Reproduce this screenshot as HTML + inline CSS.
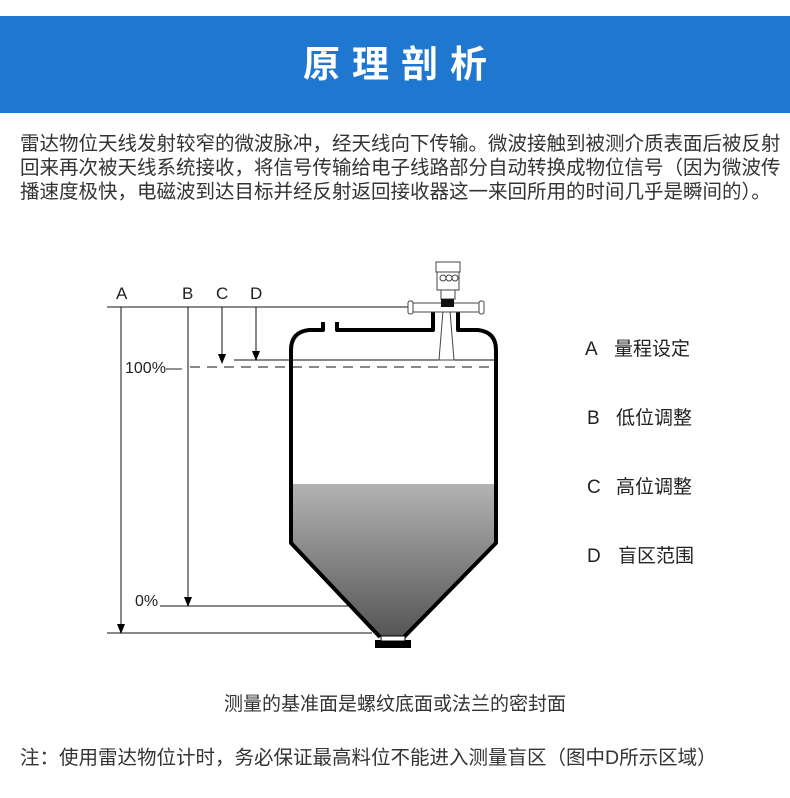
<!DOCTYPE html>
<html><head><meta charset="utf-8"><style>
body{margin:0;width:790px;height:798px;background:#fff;overflow:hidden;position:relative;font-family:"Liberation Sans","Noto Sans CJK SC",sans-serif;color:#333}
.band{position:absolute;left:0;top:16px;width:790px;height:97px;background:#1f77cf}
.title{position:absolute;left:0;top:16px;width:790px;height:97px;line-height:97px;text-align:center;color:#fff;font-size:37px;font-weight:bold;letter-spacing:12px;text-indent:12px}
.p{position:absolute;left:20px;top:132px;width:760px;font-size:19.5px;line-height:24px;white-space:nowrap;color:#333}
.t{position:absolute;white-space:nowrap}
</style></head><body>
<div class="band"></div><div class="title">原理剖析</div>
<div class="p">雷达物位天线发射较窄的微波脉冲，经天线向下传输。微波接触到被测介质表面后被反射<br>回来再次被天线系统接收，将信号传输给电子线路部分自动转换成物位信号（因为微波传<br>播速度极快，电磁波到达目标并经反射返回接收器这一来回所用的时间几乎是瞬间的）。</div>
<svg style="position:absolute;left:0;top:0" width="790" height="798">
<defs><linearGradient id="g" x1="0" y1="0" x2="0" y2="1"><stop offset="0" stop-color="#b3b3b3"/><stop offset="1" stop-color="#555"/></linearGradient></defs>
<g font-family="Liberation Sans" font-size="17" fill="#222">
<text x="116" y="299">A</text><text x="182" y="299">B</text><text x="216" y="299">C</text><text x="250" y="299">D</text>
<text x="125" y="373" font-size="16">100%—</text><text x="135" y="606" font-size="16">0%</text></g>
<g stroke="#111" stroke-width="1" fill="none">
<line x1="107" y1="307" x2="410" y2="307"/>
<line x1="107" y1="633" x2="372" y2="633"/>
<line x1="160" y1="606" x2="348" y2="606"/>
<line x1="234" y1="360" x2="497" y2="360"/>
<line x1="190" y1="367" x2="497" y2="367" stroke-dasharray="10,7"/>
<line x1="121" y1="307" x2="121" y2="625"/>
<line x1="188" y1="307" x2="188" y2="598"/>
<line x1="222" y1="307" x2="222" y2="355"/>
<line x1="256" y1="307" x2="256" y2="352"/>
</g>
<g fill="#000">
<path d="M117,624 L125,624 L121,634z"/>
<path d="M184,597 L192,597 L188,607z"/>
<path d="M218,354 L226,354 L222,364z"/>
<path d="M252,351 L260,351 L256,361z"/>
</g>
<path d="M291,484 L496,484 L496,543 L404,637 L380,637 L291,543z" fill="url(#g)"/>
<g stroke="#000" stroke-width="4" fill="none" stroke-linejoin="round">
<path d="M323,322 L323,330 L309,330 Q291,332 291,350 L291,543 L380,637"/>
<path d="M337,322 L337,330 L433,330 L433,308"/>
<path d="M458,308 L458,330 L478,330 Q496,332 496,350 L496,543 L404,637"/>
</g>
<rect x="375" y="640" width="36" height="8" fill="#000"/>
<rect x="381" y="636" width="24" height="5" fill="#fff" stroke="#000"/>
<g stroke="#444" stroke-width="1" fill="#fff">
<path d="M439,360 L443,311 L450,311 L454,360z"/>
<rect x="410" y="303" width="72" height="9" rx="3"/>
<rect x="408" y="301" width="5" height="13" rx="2"/><rect x="479" y="301" width="5" height="13" rx="2"/>
<rect x="436" y="262" width="24" height="10"/>
<rect x="437" y="272" width="22" height="18"/>
<circle cx="443" cy="278" r="3"/><circle cx="449" cy="278" r="3"/><circle cx="455" cy="278" r="3"/>
<rect x="441" y="290" width="14" height="9"/>
</g>
<rect x="441" y="299" width="13" height="8" fill="#111"/>
<g font-family="Liberation Sans,Noto Sans CJK SC,sans-serif" font-size="19" fill="#222">
<text x="585" y="355">A</text><text x="614" y="355">量程设定</text>
<text x="587" y="424">B</text><text x="616" y="424">低位调整</text>
<text x="587" y="493">C</text><text x="616" y="493">高位调整</text>
<text x="587" y="562">D</text><text x="618" y="562">盲区范围</text>
</g>
</svg>
<div class="t" style="left:0;width:790px;text-align:center;top:689px;font-size:19px;color:#333">测量的基准面是螺纹底面或法兰的密封面</div>
<div class="t" style="left:20px;top:741px;font-size:19.5px;color:#333">注：使用雷达物位计时，务必保证最高料位不能进入测量盲区（图中D所示区域）</div>
</body></html>
